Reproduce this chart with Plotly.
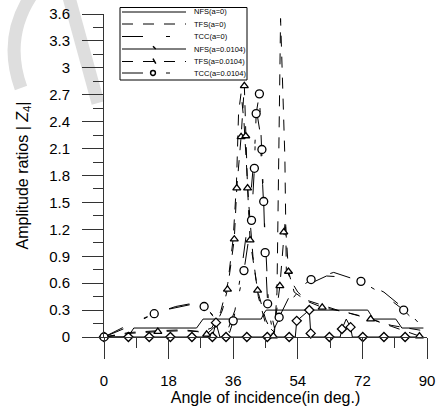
import plotly.graph_objects as go

# ---------------- data ----------------
nfs0_x = [0, 6.5, 7.5, 8.3, 25.8, 26.8, 27.6, 43.8, 44.5, 45.2, 73.5, 74.3, 75, 81.3, 82.2, 83, 89]
nfs0_y = [0, 0, 0.05, 0.1, 0.1, 0.15, 0.2, 0.2, 0.26, 0.3, 0.3, 0.25, 0.2, 0.2, 0.15, 0.1, 0.1]

tfs0_x = [0, 7, 15, 22, 27, 30, 32.5, 34.5, 36, 36.9, 37.5, 38.2, 39, 40.3, 41.5, 43, 45, 47.5,
          48.2, 48.5, 48.9, 49.2, 50.4, 50.8, 52.5, 54, 56.5, 65, 72, 80, 89]
tfs0_y = [0, 0.05, 0.07, 0.08, 0.06, 0.1, 0.28, 0.6, 1.1, 1.7, 2.5, 2.72, 2.4, 1.5, 0.9, 0.45, 0.15, 0.05,
          0.5, 1.6, 3.0, 3.55, 2.0, 0.75, 0.6, 0.5, 0.41, 0.3, 0.23, 0.13, 0.07]

tcc0_x = [0, 6, 12, 18, 24, 29, 32, 34.5, 36.5, 38.5, 40.5, 41.8, 42.6, 43.4, 44.2, 45, 45.8, 47.5,
          50, 55, 62, 70, 78, 85, 89]
tcc0_y = [0, 0.1, 0.22, 0.31, 0.36, 0.3, 0.15, 0.08, 0.3, 0.8, 1.4, 2.0, 2.5, 2.3, 1.7, 1.0, 0.4, 0.1,
          0.3, 0.55, 0.68, 0.66, 0.5, 0.27, 0.1]

nfs1_x = [0, 6.8, 12.6, 18.5, 24.5, 30.2, 31.2, 32.3, 34, 39.8, 45.5, 51.6, 53.3, 53.7, 57.2, 57.6, 58.2,
          62.8, 65.8, 66.3, 67.5, 68.7, 69.2, 72.1, 78, 83.9, 89]
nfs1_y = [0, 0, 0, 0, 0, 0, 0.16, 0, 0, 0, 0, 0, 0, 0.18, 0.3, 0.04, 0,
          0, 0, 0.09, 0.2, 0.11, 0, 0, 0, 0, 0]
nfs1_marks = [0, 1, 2, 3, 4, 5, 6, 8, 9, 10, 11, 13, 14, 15, 17, 19, 21, 23, 24, 25]

tfs1_x = [0, 7, 15, 22, 26, 28.6, 31, 33, 34.4, 36.3, 37, 38.2, 39.1, 39.5, 40, 40.7, 42.8, 45, 47.2,
          49, 50.1, 50.5, 51.4, 53, 56.5, 60.8, 67, 74.3, 80, 87.9]
tfs1_y = [0, 0.04, 0.06, 0.07, 0.06, 0.03, 0.12, 0.3, 0.53, 1.09, 1.66, 2.23, 2.8, 2.24, 1.66, 1.08, 0.52, 0.2, 0.01,
          0.57, 1.17, 1.3, 0.73, 0.5, 0.4, 0.33, 0.28, 0.2, 0.12, 0.01]
tfs1_marks = [0, 2, 5, 8, 9, 10, 11, 12, 13, 14, 15, 16, 18, 19, 20, 22, 25, 27, 29]

tcc1_x = [0, 7, 14, 20, 24, 27.9, 31, 33.5, 35, 36, 39, 41.1, 41.9, 42.4, 43.3, 44, 44.5, 44.9, 45.6, 47,
          48.8, 52, 57.7, 64, 71.6, 78, 83.5, 88]
tcc1_y = [0, 0.14, 0.26, 0.34, 0.37, 0.34, 0.22, 0.1, 0.05, 0.18, 0.74, 1.3, 1.88, 2.49, 2.71, 2.09, 1.51, 0.94, 0.37, 0.06,
          0.22, 0.48, 0.64, 0.72, 0.62, 0.47, 0.3, 0.12]
tcc1_marks = [0, 2, 5, 9, 10, 11, 12, 13, 14, 15, 16, 17, 18, 20, 22, 24, 26]

x_ticks = [0, 18, 36, 54, 72, 90]
y_ticks = [0, 0.3, 0.6, 0.9, 1.2, 1.5, 1.8, 2.1, 2.4, 2.7, 3, 3.3, 3.6]
y_tick_text = ["0", "0.3", "0.6", "0.9", "1.2", "1.5", "1.8", "2.1", "2.4", "2.7", "3", "3.3", "3.6"]

legend_names = ["NFS(a=0)", "TFS(a=0)", "TCC(a=0)", "NFS(a=0.0104)", "TFS(a=0.0104)", "TCC(a=0.0104)"]

# ---------------- styling ----------------
W, H = 438, 415
ML, MR, MT, MB = 104, 11, 14, 78
PW, PH = W - ML - MR, H - MT - MB
FONT = "Liberation Sans, Arial, sans-serif"
DASH_TFS = "11px,10px"
DASH_TCC = "21px,23px,4px,23px"
AX = "#333333"

fig = go.Figure()


def add_series(x, y, dash, symbol=None, marks=None, size=8):
    fig.add_trace(go.Scatter(x=x, y=y, mode="lines", showlegend=False, cliponaxis=False,
                             line=dict(color="black", width=1, dash=dash)))
    if symbol:
        fig.add_trace(go.Scatter(x=[x[i] for i in marks], y=[y[i] for i in marks], mode="markers",
                                 showlegend=False, cliponaxis=False,
                                 marker=dict(symbol=symbol, size=size, color="white",
                                             line=dict(color="black", width=1.3))))


add_series(nfs0_x, nfs0_y, "solid")
add_series(tfs0_x, tfs0_y, DASH_TFS)
add_series(tcc0_x, tcc0_y, DASH_TCC)
add_series(nfs1_x, nfs1_y, "solid", "diamond", nfs1_marks, 7)
add_series(tfs1_x, tfs1_y, DASH_TFS, "triangle-up", tfs1_marks, 7)
add_series(tcc1_x, tcc1_y, DASH_TCC, "circle", tcc1_marks, 8)


def px(x, y):
    return (x - ML) / PW, (H - MB - y) / PH


def path_str(cmds):
    out = []
    for c, pts in cmds:
        out.append(c + " " + " ".join("%.4f,%.4f" % px(a, b) for a, b in pts))
    return " ".join(out)


shapes = []
annotations = []

# faint watermark (decoration)
shapes.append(dict(type="path", xref="paper", yref="paper", layer="below",
                   path=path_str([("M", [(21, 88)]), ("Q", [(2, 35), (35, -10)])]),
                   line=dict(color="#dedede", width=13)))
shapes.append(dict(type="path", xref="paper", yref="paper", layer="below",
                   path=path_str([("M", [(67, -10)]), ("L", [(98, 103)])]),
                   line=dict(color="#dedede", width=13)))

# legend box
a0, b0 = px(120, 7.5)
a1, b1 = px(247, 80)
shapes.append(dict(type="rect", xref="paper", yref="paper", x0=a0, x1=a1, y0=b1, y1=b0,
                   line=dict(color="black", width=1), fillcolor="white", layer="above"))

rows = [12, 24, 36.5, 49, 61.5, 73]
dashes = ["solid", DASH_TFS, DASH_TCC, "solid", DASH_TFS, DASH_TCC]
syms = [None, None, None, "diamond", "triangle", "circle"]
for name, ry, dsh, sym in zip(legend_names, rows, dashes, syms):
    xa, ya = px(122, ry)
    xb, _ = px(186, ry)
    shapes.append(dict(type="line", xref="paper", yref="paper", x0=xa, x1=xb, y0=ya, y1=ya,
                       line=dict(color="black", width=1, dash=dsh), layer="above"))
    cx, cy = 153, ry
    if sym == "circle":
        p0 = px(cx - 2.4, cy - 2.4)
        p1 = px(cx + 2.4, cy + 2.4)
        shapes.append(dict(type="circle", xref="paper", yref="paper", x0=p0[0], x1=p1[0], y0=p1[1], y1=p0[1],
                           line=dict(color="black", width=1.5), fillcolor="white", layer="above"))
    elif sym == "triangle":
        shapes.append(dict(type="path", xref="paper", yref="paper", layer="above",
                           path=path_str([("M", [(cx, cy - 3)]), ("L", [(cx + 2.8, cy + 2), (cx - 2.8, cy + 2)])]) + " Z",
                           line=dict(color="black", width=1.5), fillcolor="white"))
    elif sym == "diamond":
        shapes.append(dict(type="path", xref="paper", yref="paper", layer="above",
                           path=path_str([("M", [(cx, cy - 2.7)]), ("L", [(cx + 2.7, cy), (cx, cy + 2.7), (cx - 2.7, cy)])]) + " Z",
                           line=dict(color="black", width=1.5), fillcolor="white"))
    tx, ty = px(192.5, ry)
    annotations.append(dict(x=tx, y=ty, xref="paper", yref="paper", text=name, showarrow=False,
                            xanchor="left", yanchor="middle", align="left", borderpad=0,
                            font=dict(size=7.5, color="black", family=FONT)))

fig.update_layout(
    width=W, height=H, margin=dict(l=ML, r=MR, t=MT, b=MB, autoexpand=False),
    paper_bgcolor="white", plot_bgcolor="white",
    font=dict(family=FONT, color="black"),
    shapes=shapes, annotations=annotations, showlegend=False,
    xaxis=dict(range=[0, 90], tickmode="array", tickvals=x_ticks, ticks="outside", ticklen=21,
               tickwidth=1, tickcolor=AX, showline=True, linecolor=AX, linewidth=1,
               showgrid=False, zeroline=False, tickfont=dict(size=15), ticklabelstandoff=9,
               minor=dict(dtick=9, tick0=0, ticks="outside", ticklen=10, tickcolor=AX, tickwidth=1, showgrid=False),
               title=dict(text="Angle of incidence(in deg.)", font=dict(size=16), standoff=2)),
    yaxis=dict(range=[0, 3.6], tickmode="array", tickvals=y_ticks, ticktext=y_tick_text, ticks="outside",
               ticklen=21, tickwidth=1, tickcolor=AX, showline=True, linecolor=AX, linewidth=1,
               showgrid=False, zeroline=False, tickfont=dict(size=15), ticklabelstandoff=9,
               minor=dict(dtick=0.15, tick0=0, ticks="outside", ticklen=10, tickcolor=AX, tickwidth=1, showgrid=False),
               title=dict(text="Amplitude ratios | <i>Z</i><sub>4</sub>|", font=dict(size=16), standoff=16)),
)

fig.write_html("out.html")
